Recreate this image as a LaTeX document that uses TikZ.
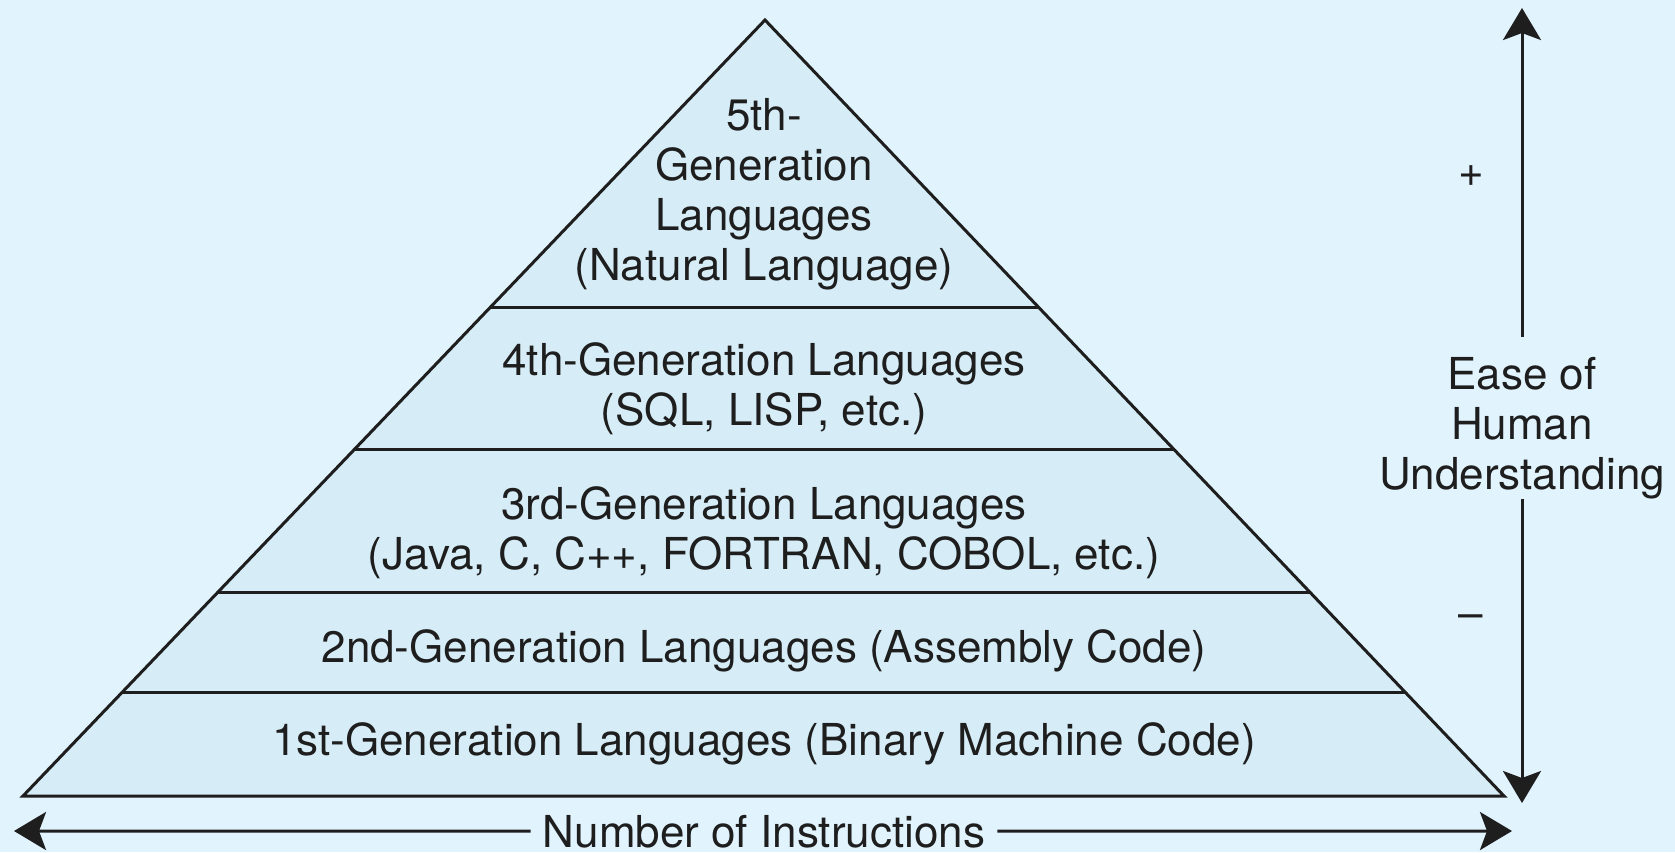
\documentclass[tikz,border=0pt]{standalone}
\usepackage{fontspec}
\setmainfont{TeX Gyre Heros}
\usetikzlibrary{arrows.meta,calc}
\definecolor{skybg}{RGB}{225,243,253}
\definecolor{layerfill}{RGB}{214,237,247}
\definecolor{ink}{RGB}{30,30,30}
\tikzset{layer/.style={draw=ink,line width=3pt},
  gen/.style={align=center,font=\fontsize{44}{50}\selectfont,text=ink,inner sep=0pt},
  axis/.style={draw=ink,line width=3pt,-{Stealth[length=32pt,width=38pt,inset=7pt]}}}

\begin{document}
\begin{tikzpicture}[x=1pt,y=-1pt]
              \fill[skybg] (0,0) rectangle (1675,852);
              \useasboundingbox (0,0) rectangle (1675,852);

              \coordinate (apex) at (765,20);
              \coordinate (bl) at (23,796);
              \coordinate (br) at (1504,796);
              \filldraw[layer,fill=layerfill] (apex) -- (br) -- (bl) -- cycle;
              \foreach \f in {0.3711,0.5541,0.7371,0.8660}
                \draw[layer] ($(apex)!\f!(bl)$) -- ($(apex)!\f!(br)$);

              \node[gen,anchor=base] (g5) at (764,280) {5th-\\Generation\\Languages\\(Natural Language)};
              \node[gen,anchor=base] (g4) at (764,425) {4th-Generation Languages\\(SQL, LISP, etc.)};
              \node[gen,anchor=base] (g3) at (764,569) {3rd-Generation Languages\\(Java, C, C++, FORTRAN, COBOL, etc.)};
              \node[gen,anchor=base] (g2) at (764,662) {2nd-Generation Languages (Assembly Code)};
              \node[gen,anchor=base] (g1) at (764,755) {1st-Generation Languages (Binary Machine Code)};

              \node[gen] (plus) at (1471,176) {+};
              \node[gen] (minus) at (1471,622) {\textendash};

              \coordinate (up) at (1522,8);
              \coordinate (down) at (1522,803);
              \node[gen,anchor=base] (ease) at (1522,489) {Ease of\\Human\\Understanding};

              \coordinate (lft) at (14,831);
              \coordinate (rgt) at (1512,831);
              \node[gen,anchor=base,inner xsep=12pt] (num) at (764,847) {Number of Instructions};

              \path
              (ease) edge [axis,shorten <=20pt] (up)
              (ease.south) edge [axis] (down)
              (num.west) edge [axis] (lft)
              (num.east) edge [axis] (rgt)
              ;
            \end{tikzpicture}
\end{document}
